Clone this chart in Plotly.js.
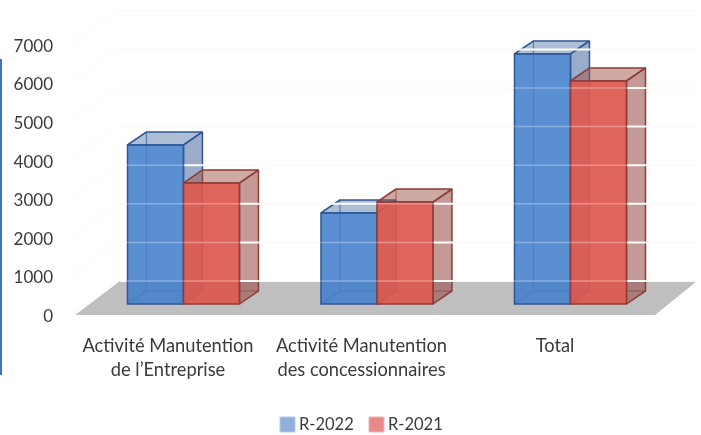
<!DOCTYPE html>
<html><head><meta charset="utf-8">
<script src="https://cdn.plot.ly/plotly-3.0.1.min.js"></script>
<style>html,body{margin:0;padding:0;background:#fff}#c{width:701px;height:435px;filter:blur(0.4px)}</style>
</head><body><div id="c"></div>
<script>
const categories = ["Activité Manutention<br>de l’Entreprise", "Activité Manutention<br>des concessionnaires", "Total"];
const seriesNames = ["R-2022", "R-2021"];
const r2022 = [4120, 2360, 6480];
const r2021 = [3135, 2640, 5780];
const yTicks = [0,1000,2000,3000,4000,5000,6000,7000];

// pseudo-3D projection, expressed in axis units
const catX = [0,1,2], shift = 0.08, barW = 0.2894;
const frontBase = 259, depthX = 0.098, depthY = 337, wallBase = 855;
const xRange = [-0.5788, 2.7545], yRange = [-285, 8135];
const blueLine = '#2F5597', redLine = '#8C3B38';

function faces(vals, off){
  const side=[[],[]], top=[[],[]], back=[[],[]];
  vals.forEach((v,i)=>{
    const a=catX[i]+shift+off-barW/2, b=a+barW, t=frontBase+v, f=frontBase;
    const p=(arr,xs,ys)=>{arr[0].push(...xs,null);arr[1].push(...ys,null);};
    p(side,[b,b+depthX,b+depthX,b,b],[f,f+depthY,t+depthY,t,f]);
    p(top,[a,a+depthX,b+depthX,b,a],[t,t+depthY,t+depthY,t,t]);
    p(back,[a,a+depthX,a+depthX],[t,t+depthY,f+depthY]);
    p(back,[a,a+depthX,b+depthX],[f,f+depthY,f+depthY]);
  });
  return {side,top,back};
}
function poly(d,fill,line,width){
  return {type:'scatter',mode:'lines',x:d[0],y:d[1],fill:fill?'toself':'none',fillcolor:fill||undefined,
    line:{color:line,width:width||1.5},showlegend:false,hoverinfo:'skip',connectgaps:false};
}
const fb=faces(r2022,-barW/2), fr=faces(r2021,barW/2);
const gx=[],gy=[],sx=[],sy=[];
yTicks.forEach(t=>{
  gx.push(-0.248,2.734,null); gy.push(wallBase+t,wallBase+t,null);
  sx.push(-0.50,-0.268,null); sy.push(t,wallBase+t,null);
});
const traces=[
  {type:'scatter',mode:'lines',x:[-0.48,2.517,2.734,-0.248,-0.48],y:[-25,-25,wallBase,wallBase,-25],fill:'toself',
   fillcolor:'#BFBFBF',line:{width:0},showlegend:false,hoverinfo:'skip'},
  poly(fb.back,null,'rgba(47,85,151,0.8)',1.2),
  poly(fb.side,'rgba(72,104,160,0.55)',blueLine),
  poly(fb.top,'rgba(92,128,170,0.5)',blueLine),
  poly(fr.back,null,'rgba(140,59,56,0.7)',1.2),
  poly(fr.side,'rgba(150,70,62,0.55)',redLine),
  poly(fr.top,'rgba(160,85,72,0.5)',redLine),
  {type:'scatter',mode:'lines',x:sx,y:sy,line:{color:'#FBFBFB',width:1.5},showlegend:false,hoverinfo:'skip'},
  {type:'scatter',mode:'lines',x:gx,y:gy,line:{color:'#FAFAFA',width:2},showlegend:false,hoverinfo:'skip'},
  {type:'bar',name:seriesNames[0],x:catX.map(c=>c+shift-barW/2),y:r2022,base:frontBase,width:barW,xaxis:'x2',yaxis:'y2',
   marker:{color:'rgba(67,128,204,0.88)',line:{color:blueLine,width:1.5}},hoverinfo:'y'},
  {type:'bar',name:seriesNames[1],x:catX.map(c=>c+shift+barW/2),y:r2021,base:frontBase,width:barW,xaxis:'x2',yaxis:'y2',
   marker:{color:'rgba(220,88,78,0.92)',line:{color:redLine,width:1.5}},hoverinfo:'y'},
  {type:'scatter',mode:'lines',x:gx,y:gy,xaxis:'x2',yaxis:'y2',line:{color:'rgba(255,255,255,0.28)',width:1.5},showlegend:false,hoverinfo:'skip'}
];
const txt='#3A3A3A';
const swatch=(x0,fill,edge)=>({type:'rect',xref:'paper',xsizemode:'pixel',xanchor:0,x0:x0,x1:x0+15,yref:'paper',ysizemode:'pixel',yanchor:0,y0:-107,y1:-92,fillcolor:fill,line:{color:edge,width:1}});
const legendText=(x,t)=>({xref:'paper',yref:'paper',x:x,y:-0.3046,xanchor:'left',yanchor:'middle',text:t,showarrow:false,font:{size:16.5,color:txt},borderpad:0});
const layout={
  width:701,height:435,paper_bgcolor:'#fff',plot_bgcolor:'rgba(0,0,0,0)',
  margin:{l:56,r:0,t:0,b:110,pad:0},
  barmode:'overlay',showlegend:false,
  font:{family:'Lato, sans-serif',color:txt,size:16},
  xaxis:{range:xRange,fixedrange:true,tickmode:'array',tickvals:catX,ticktext:categories,showgrid:false,zeroline:false,showline:false,ticks:'',tickfont:{size:18.3,color:txt},tickangle:0,automargin:false,ticklabelstandoff:8},
  yaxis:{range:yRange,fixedrange:true,tickmode:'array',tickvals:yTicks,showgrid:false,zeroline:false,showline:false,ticks:'',tickfont:{size:17,color:txt},automargin:false,ticklabelstandoff:2,ticklabelshift:2},
  xaxis2:{range:xRange,overlaying:'x',visible:false,fixedrange:true},
  yaxis2:{range:yRange,overlaying:'y',visible:false,fixedrange:true},
  annotations:[legendText(242/645,seriesNames[0]),legendText(331/645,seriesNames[1])],
  shapes:[{type:'rect',xref:'paper',xsizemode:'pixel',xanchor:0,x0:-56,x1:-54,yref:'paper',ysizemode:'pixel',yanchor:0,y0:-50,y1:266,fillcolor:'#4472C4',line:{width:0}},
    swatch(224,'#8FB0DC','#B4CBE8'),swatch(313,'#E98A8A','#F2B4B4')]
};
Plotly.newPlot('c',traces,layout,{displayModeBar:false,staticPlot:true});
</script></body></html>
